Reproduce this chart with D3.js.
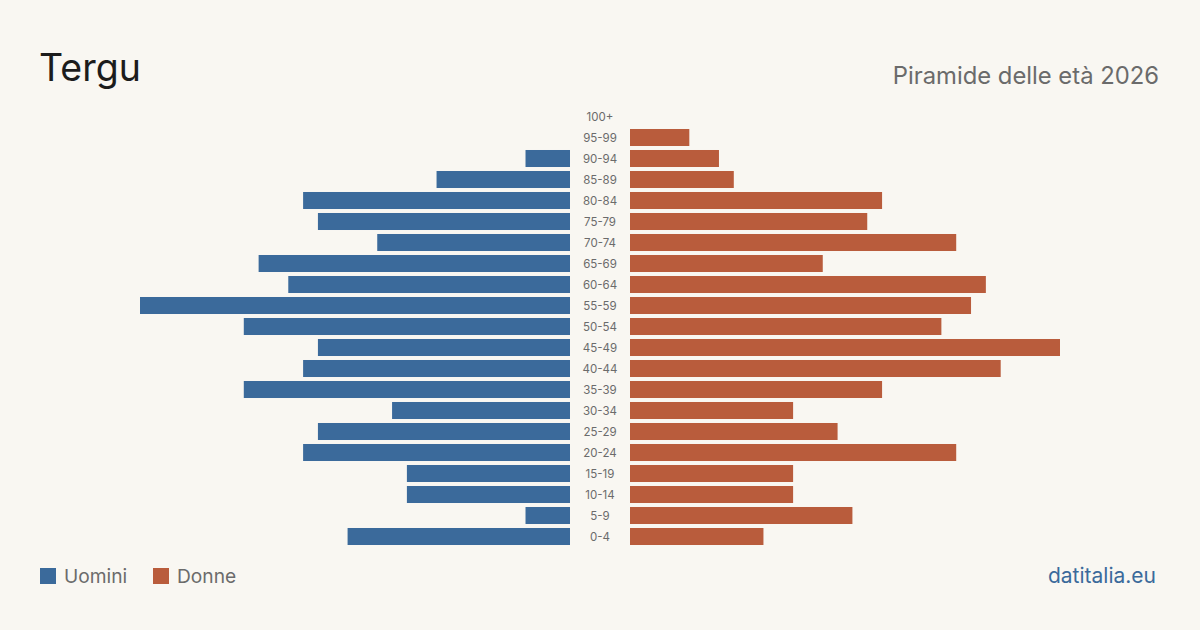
<!DOCTYPE html>
<html>
<head>
<meta charset="utf-8">
<script src="https://cdn.jsdelivr.net/npm/d3@7"></script>
<style>
  html, body { margin: 0; padding: 0; background: #f9f7f2; }
  svg { display: block; font-family: Inter, "Noto Sans", sans-serif; }
</style>
</head>
<body>
<svg id="chart" width="1200" height="630"></svg>
<script>
// eta dall'alto verso il basso
let ageGroups = ['100+', '95-99', '90-94', '85-89', '80-84', '75-79', '70-74', '65-69', '60-64',
	'55-59', '50-54', '45-49', '40-44', '35-39', '30-34', '25-29', '20-24', '15-19', '10-14', '5-9', '0-4'];
let males = [0, 0, 3, 9, 18, 17, 13, 21, 19, 29, 22, 17, 18, 22, 12, 17, 18, 11, 11, 3, 15];
let females = [0, 4, 6, 7, 17, 16, 22, 13, 24, 23, 21, 29, 25, 17, 11, 14, 22, 11, 11, 15, 9];
let seriesNames = ['Uomini', 'Donne'];

let colors = {male: '#3b6a9b', female: '#b95c3c'};

let svg = d3.select('#chart');
svg.append('rect').attr('width', 1200).attr('height', 630).attr('fill', '#f9f7f2');

let maxVal = d3.max(males.concat(females));

let y = d3.scaleBand()
	.domain(ageGroups)
	.range([106, 547])
	.paddingInner(0.19)
	.paddingOuter(0.095);

let xLeft = d3.scaleLinear().domain([0, maxVal]).range([570, 140]);
let xRight = d3.scaleLinear().domain([0, maxVal]).range([630, 1060]);

// Uomini
svg.append('g').selectAll('rect')
	.data(males)
	.join('rect')
	.attr('x', d => xLeft(d))
	.attr('y', (d, i) => y(ageGroups[i]))
	.attr('width', d => xLeft(0) - xLeft(d))
	.attr('height', y.bandwidth())
	.attr('fill', colors.male);

// Donne
svg.append('g').selectAll('rect')
	.data(females)
	.join('rect')
	.attr('x', xRight(0))
	.attr('y', (d, i) => y(ageGroups[i]))
	.attr('width', d => xRight(d) - xRight(0))
	.attr('height', y.bandwidth())
	.attr('fill', colors.female);

// etichette eta
svg.append('g').selectAll('text')
	.data(ageGroups)
	.join('text')
	.attr('x', 600)
	.attr('y', d => y(d) + y.bandwidth() / 2)
	.attr('dy', '0.35em')
	.attr('text-anchor', 'middle')
	.attr('font-size', 11.5)
	.attr('fill', '#6b6b6b')
	.text(d => d);

// titoli
svg.append('text')
	.attr('x', 39).attr('y', 81)
	.attr('font-size', 37.5)
	.attr('fill', '#1c1c1c')
	.text('Tergu');

svg.append('text')
	.attr('x', 1159).attr('y', 84)
	.attr('text-anchor', 'end')
	.attr('font-size', 23.8)
	.attr('fill', '#6b6b6b')
	.text('Piramide delle età 2026');

// legenda
let legend = svg.append('g');
let legendX = [40, 153];
seriesNames.forEach((name, i) => {
	legend.append('rect')
		.attr('x', legendX[i]).attr('y', 568)
		.attr('width', 16).attr('height', 16)
		.attr('fill', i === 0 ? colors.male : colors.female);
	legend.append('text')
		.attr('x', legendX[i] + 24).attr('y', 583)
		.attr('font-size', 19.2)
		.attr('fill', '#6b6b6b')
		.text(name);
});

svg.append('text')
	.attr('x', 1156).attr('y', 583)
	.attr('text-anchor', 'end')
	.attr('font-size', 21)
	.attr('fill', '#3b6a9b')
	.text('datitalia.eu');
</script>
</body>
</html>
